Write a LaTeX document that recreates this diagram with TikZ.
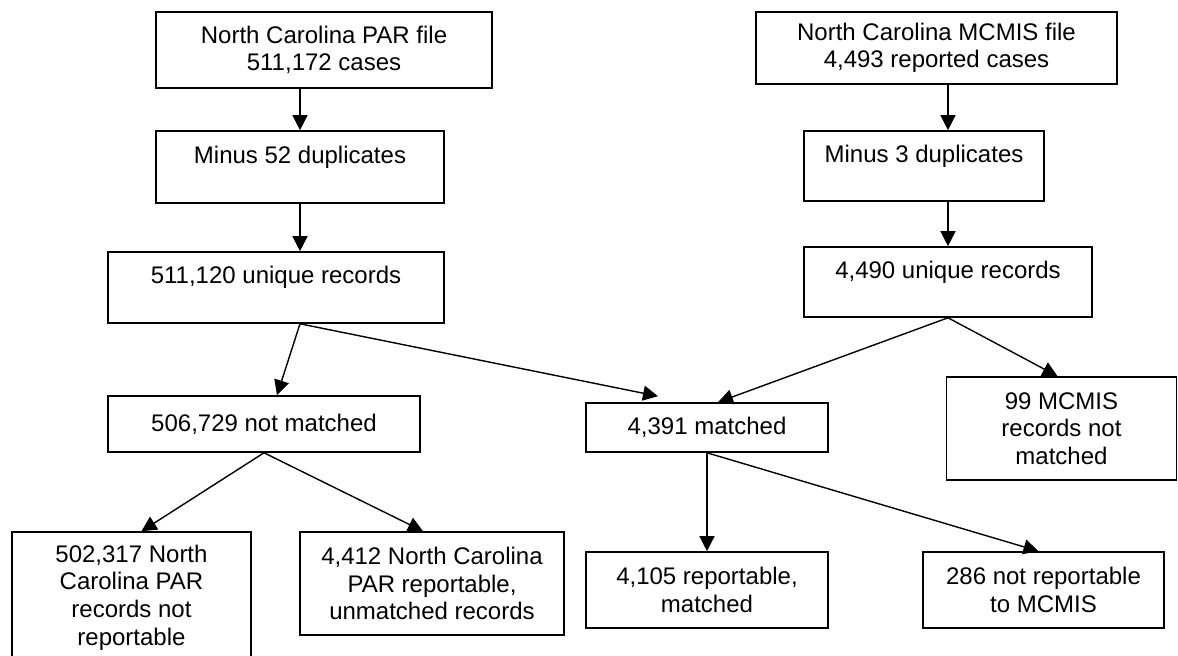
\documentclass[tikz,border=0pt]{standalone}
\usepackage{fontspec}
\setmainfont{Liberation Sans}
\usetikzlibrary{arrows.meta}

\begin{document}
\begin{tikzpicture}[x=0.5pt,y=-0.5pt,>={Triangle[length=7.5pt,width=7.5pt]}]
  \tikzset{box/.style={draw, line width=0.8pt, inner sep=1pt, align=center,
      font=\fontsize{12pt}{13.8pt}\selectfont},
    high/.style={text depth=12.5pt}}
  \useasboundingbox (0,0) rectangle (1178,656);
  \clip (0,0) rectangle (1178,656);

% PAR side
\node[box, minimum width=168pt, minimum height=38pt] (par1) at (324,50) {North Carolina PAR file\\511,172 cases};
\node[box, high, minimum width=144pt, minimum height=36pt] (par2) at (300,167) {Minus 52 duplicates};
\node[box, high, minimum width=168pt, minimum height=35.5pt] (par3) at (276,287.5) {511,120 unique records};

% MCMIS side
\node[box, minimum width=180.5pt, minimum height=36pt] (mc1) at (936.5,48) {North Carolina MCMIS file\\4,493 reported cases};
\node[box, high, minimum width=120pt, minimum height=35pt] (mc2) at (924,166) {Minus 3 duplicates};
\node[box, high, minimum width=144pt, minimum height=35pt] (mc3) at (948,282) {4,490 unique records};

\node[box, minimum width=156pt, minimum height=28pt] (nm) at (264,424) {506,729 not matched};
\node[box, minimum width=121pt, minimum height=24.5pt] (m) at (707,427.5) {4,391 matched};
\node[box, minimum width=115pt, minimum height=51.5pt] (mcnm) at (1061.5,428.5) {99 MCMIS\\records not\\matched};

\node[box, minimum width=119.5pt, minimum height=65.5pt] (nm1) at (131.5,597.5) {502,317 North\\Carolina PAR\\records not\\reportable};
\node[box, minimum width=132pt, minimum height=51.5pt] (nm2) at (432,583.5) {4,412 North Carolina\\PAR reportable,\\unmatched records};
\node[box, minimum width=121pt, minimum height=38pt] (m1) at (707,590) {4,105 reportable,\\matched};
\node[box, minimum width=120.5pt, minimum height=38pt] (m2) at (1043.5,590) {286 not reportable\\to MCMIS};

  \begin{scope}[line width=0.7pt]
\draw[->] (par1.south -| par2.north) -- (par2.north);
\draw[->] (par2.south) -- (par2.south |- par3.north);
\draw[->] (mc1.south -| mc3.north) -- (mc2.north -| mc3.north);
\draw[->] (mc2.south -| mc3.north) -- (mc3.north);

\coordinate (j1) at (par3.south -| par2.south);
\draw[->] (j1) -- ([shift={(13,0)}]nm.north);
\draw[->] (j1) -- ([shift={(-49,-6)}]m.north);
\draw[->] (mc3.south) -- ([shift={(11,0)}]m.north);
\draw[->] (mc3.south) -- ([shift={(-4,0)}]mcnm.north);

\draw[->] (nm.south) -- ([shift={(10,0)}]nm1.north);
\draw[->] (nm.south) -- ([shift={(-9,0)}]nm2.north);
\draw[->] (m.south) -- (m1.north);
\draw[->] (m.south) -- ([shift={(-5,0)}]m2.north);
  \end{scope}
\end{tikzpicture}
\end{document}
